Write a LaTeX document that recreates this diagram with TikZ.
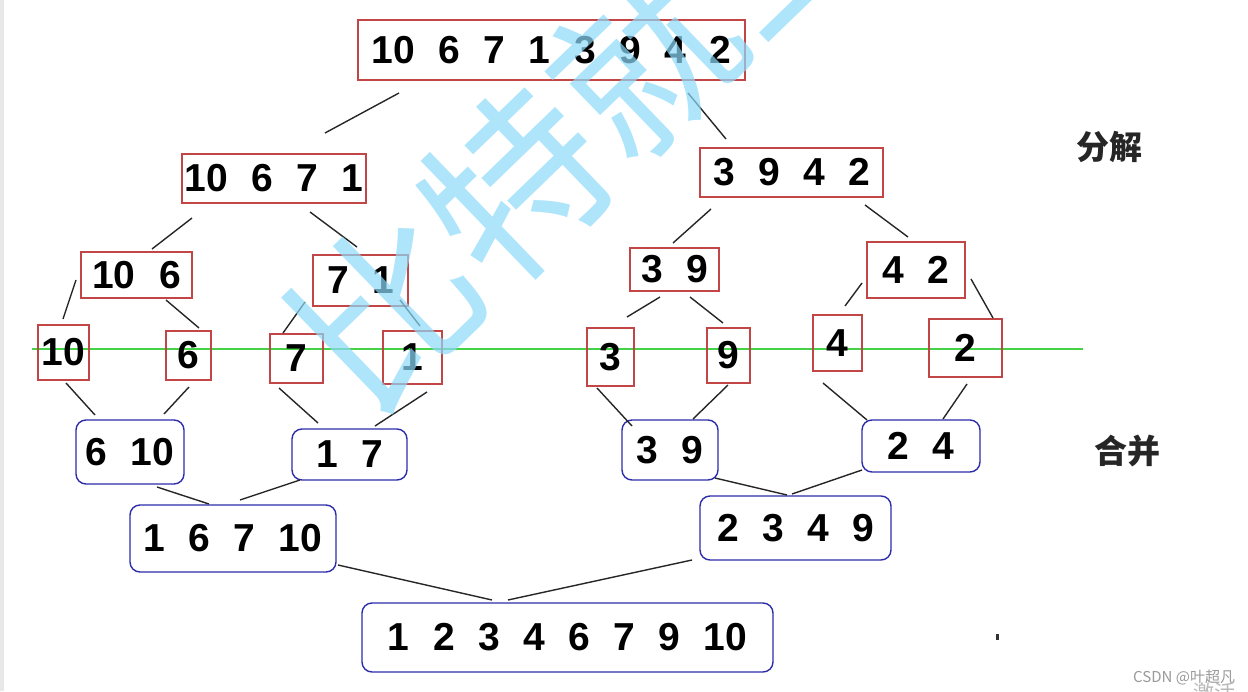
\documentclass[tikz,border=0pt]{standalone}
\usepackage{fontspec}
\setmainfont{Liberation Sans}
\newfontfamily\cjk{Noto Sans CJK SC}
\newcommand\gp{\hspace{0.6em}}
\definecolor{redc}{RGB}{195,70,70}
\definecolor{bluec}{RGB}{45,45,170}
\definecolor{greenc}{RGB}{70,210,70}
\definecolor{wmc}{RGB}{140,218,250}
\begin{document}
\begin{tikzpicture}[x=1pt,y=1pt,
  num/.style={font=\bfseries\fontsize{39}{39}\selectfont, inner sep=0pt, line width=1.4pt, text=black},
  rbox/.style={num, draw=redc, rectangle},
  bbox/.style={num, draw=bluec, rounded corners=10pt},
  conn/.style={line width=1.4pt, black!85},
  lab/.style={font=\cjk\bfseries\fontsize{33}{33}\selectfont, text=black!85}]
\useasboundingbox (0,0) rectangle (1248,-691);
\clip (0,0) rectangle (1248,-691);
\fill[gray!18] (0,0) rectangle (4,-691);
% green line
\draw[greenc, line width=1.5pt] (32,-349) -- (1083,-349);
% split nodes
\node[rbox, minimum width=387pt, minimum height=60pt] (root) at (551.5,-50) {10\gp 6\gp 7\gp 1\gp 3\gp 9\gp 4\gp 2};
\node[rbox, minimum width=184pt, minimum height=49pt] (A) at (274,-178.5) {10\gp 6\gp 7\gp 1};
\node[rbox, minimum width=183pt, minimum height=49pt] (B) at (791.5,-172.5) {3\gp 9\gp 4\gp 2};
\node[rbox, minimum width=111pt, minimum height=46pt] (C) at (136.5,-275) {10\gp 6};
\node[rbox, minimum width=95pt, minimum height=51pt] (D) at (360.5,-280.5) {7\gp 1};
\node[rbox, minimum width=89pt, minimum height=43pt] (E) at (674.5,-269.5) {3\gp 9};
\node[rbox, minimum width=98pt, minimum height=56pt] (F) at (916,-270) {4\gp 2};
% leaves
\node[rbox, minimum width=51pt, minimum height=55pt] (L10) at (63.5,-352.5) {10};
\node[rbox, minimum width=45pt, minimum height=49pt] (L6) at (188.5,-355.5) {6};
\node[rbox, minimum width=53pt, minimum height=49pt] (L7) at (296.5,-358.5) {7};
\node[rbox, minimum width=59pt, minimum height=53pt] (L1) at (412.5,-357.5) {1};
\node[rbox, minimum width=47pt, minimum height=58pt] (L3) at (610.5,-357) {3};
\node[rbox, minimum width=43pt, minimum height=55pt] (L9) at (728.5,-355.5) {9};
\node[rbox, minimum width=49pt, minimum height=56pt] (L4) at (837.5,-343) {4};
\node[rbox, minimum width=73pt, minimum height=58pt] (L2) at (965.5,-348) {2};
% merge nodes
\node[bbox, minimum width=108pt, minimum height=64pt] (M1) at (130,-452) {6\gp 10};
\node[bbox, minimum width=115pt, minimum height=51pt] (M2) at (349.5,-454.5) {1\gp 7};
\node[bbox, minimum width=96pt, minimum height=60pt] (M3) at (670,-450) {3\gp 9};
\node[bbox, minimum width=118pt, minimum height=52pt] (M4) at (921,-446) {2\gp 4};
\node[bbox, minimum width=206pt, minimum height=67pt] (N1) at (233,-538.5) {1\gp 6\gp 7\gp 10};
\node[bbox, minimum width=191pt, minimum height=64pt] (N2) at (795.5,-528) {2\gp 3\gp 4\gp 9};
\node[bbox, minimum width=411pt, minimum height=69pt] (R) at (567.5,-637.5) {1\gp 2\gp 3\gp 4\gp 6\gp 7\gp 9\gp 10};
% split connectors
\draw[conn] ([shift={(-152.5,-43)}]root.center) -- ([shift={(51,45.5)}]A.center);
\draw[conn] ([shift={(136.5,-43)}]root.center) -- ([shift={(-65.5,33.5)}]B.center);
\draw[conn] ([shift={(-82,-39.5)}]A.center) -- ([shift={(15.5,26)}]C.center);
\draw[conn] ([shift={(36,-33.5)}]A.center) -- ([shift={(-3.5,33.5)}]D.center);
\draw[conn] ([shift={(-80.5,-36.5)}]B.center) -- ([shift={(-1.5,26.5)}]E.center);
\draw[conn] ([shift={(73.5,-32.5)}]B.center) -- ([shift={(-8,33)}]F.center);
\draw[conn] ([shift={(-60.5,-5)}]C.center) -- ([shift={(-0.5,33.5)}]L10.center);
\draw[conn] ([shift={(29.5,-25)}]C.center) -- ([shift={(10.5,27.5)}]L6.center);
\draw[conn] ([shift={(-55.5,-21.5)}]D.center) -- ([shift={(-13.5,25.5)}]L7.center);
\draw[conn] ([shift={(39.5,-19.5)}]D.center) -- ([shift={(7.5,31.5)}]L1.center);
\draw[conn] ([shift={(-14.5,-27.5)}]E.center) -- ([shift={(16.5,40)}]L3.center);
\draw[conn] ([shift={(15.5,-27.5)}]E.center) -- ([shift={(-5.5,32.5)}]L9.center);
\draw[conn] ([shift={(-54,-13)}]F.center) -- ([shift={(7.5,37)}]L4.center);
\draw[conn] ([shift={(55,-9)}]F.center) -- ([shift={(27.5,30)}]L2.center);
% merge connectors
\draw[conn] ([shift={(2.5,-30.5)}]L10.center) -- ([shift={(-35,37)}]M1.center);
\draw[conn] ([shift={(0.5,-31.5)}]L6.center) -- ([shift={(34,38)}]M1.center);
\draw[conn] ([shift={(-17.5,-29.5)}]L7.center) -- ([shift={(-31.5,31.5)}]M2.center);
\draw[conn] ([shift={(14.5,-34.5)}]L1.center) -- ([shift={(25.5,28.5)}]M2.center);
\draw[conn] ([shift={(-13.5,-31)}]L3.center) -- ([shift={(-38,24)}]M3.center);
\draw[conn] ([shift={(-0.5,-29.5)}]L9.center) -- ([shift={(23,31)}]M3.center);
\draw[conn] ([shift={(-14.5,-40)}]L4.center) -- ([shift={(-54,26)}]M4.center);
\draw[conn] ([shift={(1.5,-36)}]L2.center) -- ([shift={(22,27)}]M4.center);
\draw[conn] ([shift={(27,-35)}]M1.center) -- ([shift={(-24,34.5)}]N1.center);
\draw[conn] ([shift={(-49.5,-25.5)}]M2.center) -- ([shift={(7,38.5)}]N1.center);
\draw[conn] ([shift={(45,-28)}]M3.center) -- ([shift={(-8.5,33)}]N2.center);
\draw[conn] ([shift={(-59,-24)}]M4.center) -- ([shift={(-3.5,34)}]N2.center);
\draw[conn] ([shift={(105,-26.5)}]N1.center) -- ([shift={(-75.5,37.5)}]R.center);
\draw[conn] ([shift={(-103.5,-32)}]N2.center) -- ([shift={(-59.5,37.5)}]R.center);
% labels
\node[lab] (fenjie) at (1109,-147) {分解};
\node[lab] (hebing) at (1127,-451) {合并};
\fill[black!80] (996,-634) rectangle (998.5,-640);
\node[font=\cjk\fontsize{15}{15}\selectfont, text=gray!80, anchor=west, inner sep=0pt] (csdn) at (1133,-677) {CSDN @叶超凡};
\node[font=\cjk\fontsize{21}{21}\selectfont, text=gray!55, anchor=north west, inner sep=0pt] (jh) at (1193,-683) {激活};
% watermark
\node[font=\cjk\fontsize{180}{180}\selectfont, text=wmc, opacity=0.7, rotate=44, inner sep=0pt] (wm) at (580,-122) {比特就业};
\end{tikzpicture}
\end{document}
